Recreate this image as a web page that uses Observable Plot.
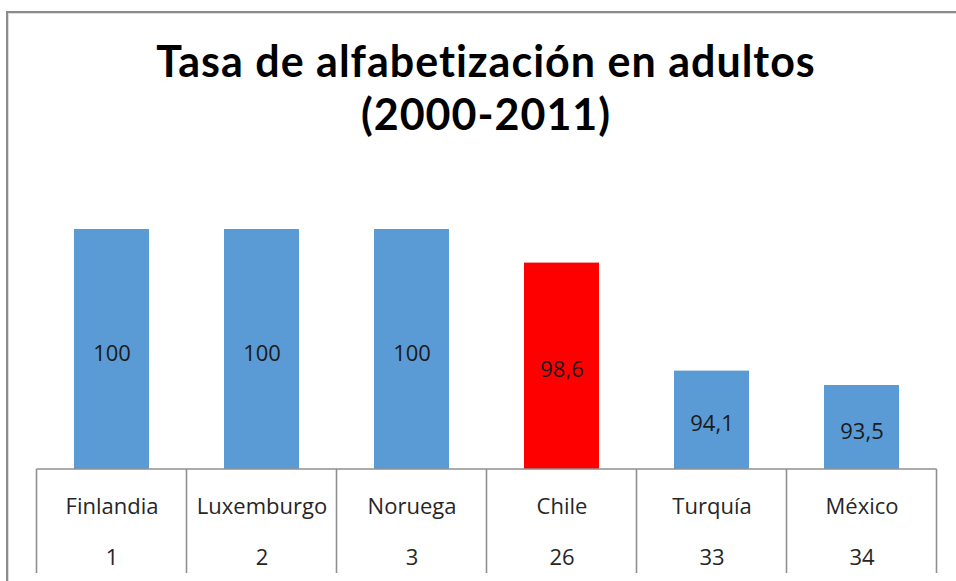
<!DOCTYPE html>
<html>
<head>
<meta charset="utf-8">
<script src="https://cdn.jsdelivr.net/npm/d3@7"></script>
<script src="https://cdn.jsdelivr.net/npm/@observablehq/plot@0.6"></script>
<style>
  body { margin:0; background:#fff; width:956px; height:581px; overflow:hidden; position:relative; font-family:"Open Sans", sans-serif; }
  #frame { position:absolute; left:6px; top:11px; width:1000px; height:700px; border-left:2px solid #8c8c8c; border-top:2px solid #8c8c8c; box-shadow: inset 1px 1px 0 #dcdcdc; }
  #title { position:absolute; left:6px; width:960px; top:34px; text-align:center; font-family:Lato, sans-serif; font-weight:bold; font-size:43px; letter-spacing:1px; line-height:53px; color:#000; }
  #chart { position:absolute; left:0; top:0; }
</style>
</head>
<body>
<div id="frame"></div>
<div id="chart"></div>
<div id="title">Tasa de alfabetización en adultos<br>(2000-2011)</div>
<script>
const categories = ["Finlandia", "Luxemburgo", "Noruega", "Chile", "Turquía", "México"];
const ranks = [1, 2, 3, 26, 33, 34];
const values = [100, 100, 100, 98.6, 94.1, 93.5];
const highlight = "Chile";
const yDomain = [90, 100];

const data = categories.map((c, i) => ({country: c, rank: ranks[i], value: values[i]}));
const fmt = v => String(v).replace(".", ",");

const tableMark = (index, scales, channels, dims) => {
  const x = scales.x, step = x.step(), bw = x.bandwidth();
  const top = dims.height - dims.marginBottom;
  const bottom = top + 104;
  const edges = categories.map(c => x(c) - (step - bw) / 2);
  edges.push(x(categories[categories.length - 1]) + bw + (step - bw) / 2);
  const g = d3.create("svg:g").attr("stroke", "#8f8f8f").attr("stroke-width", 1.6).attr("fill", "none");
  g.append("line").attr("x1", edges[0]).attr("x2", edges[edges.length - 1]).attr("y1", top).attr("y2", top);
  edges.forEach(e => g.append("line").attr("x1", e).attr("x2", e).attr("y1", top).attr("y2", bottom));
  return g.node();
};

const chart = Plot.plot({
  width: 956,
  height: 581,
  marginLeft: 34,
  marginRight: 18,
  marginTop: 229,
  marginBottom: 112,
  x: {domain: categories, paddingInner: 0.5, paddingOuter: 0.25, axis: null},
  y: {domain: yDomain, axis: null},
  style: {background: "transparent", fontFamily: "'Open Sans', sans-serif", overflow: "visible"},
  marks: [
    Plot.barY(data.filter(d => d.country !== highlight), {x: "country", y1: yDomain[0], y2: "value", fill: "#5b9bd5"}),
    Plot.barY(data.filter(d => d.country === highlight), {x: "country", y1: yDomain[0], y2: "value", fill: "#ff0000"}),
    Plot.text(data, {x: "country", y: d => (yDomain[0] + d.value) / 2, text: d => fmt(d.value), dy: 4, fontSize: 22, fill: "#1a1a1a"}),
    tableMark,
    Plot.text(data, {x: "country", frameAnchor: "bottom", lineAnchor: "middle", dy: 37, text: "country", fontSize: 22, fill: "#262626"}),
    Plot.text(data, {x: "country", frameAnchor: "bottom", lineAnchor: "middle", dy: 88, text: d => String(d.rank), fontSize: 22, fill: "#262626"})
  ]
});
document.getElementById("chart").appendChild(chart);
</script>
</body>
</html>
